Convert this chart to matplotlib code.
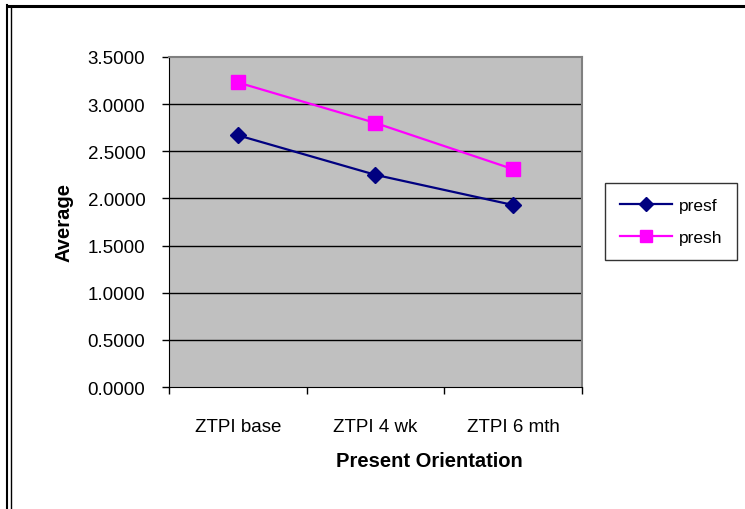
import matplotlib.pyplot as plt
from matplotlib.lines import Line2D

plt.rcParams['font.family'] = ['Liberation Sans', 'DejaVu Sans']

# categories and the two averages
categories = ['ZTPI base', 'ZTPI 4 wk', 'ZTPI 6 mth']
presf = [2.67, 2.25, 1.93]
presh = [3.23, 2.80, 2.31]
y_ticks = [0.0, 0.5, 1.0, 1.5, 2.0, 2.5, 3.0, 3.5]

fig = plt.figure(figsize=(7.45, 5.1), dpi=100)
ax = fig.add_axes([0.2268, 0.2392, 0.5544, 0.6471])
ax.set_facecolor('#C0C0C0')

x = list(range(len(categories)))
ax.plot(x, presf, color='#000080', lw=1.6, marker='D', ms=8, label='presf', zorder=3)
ax.plot(x, presh, color='#FF00FF', lw=1.6, marker='s', ms=10, label='presh', zorder=3)

ax.set_xlim(-0.5, 2.5)
ax.set_ylim(0, 3.5)
ax.set_yticks(y_ticks)
ax.set_yticklabels([f'{v:.4f}' for v in y_ticks])
for v in y_ticks[1:-1]:
    ax.axhline(v, color='black', lw=1, zorder=1)

ax.set_xticks(x)
ax.set_xticklabels(categories)
ax.set_xticks([-0.5, 0.5, 1.5, 2.5], minor=True)
ax.tick_params(axis='x', which='major', length=0, pad=22, labelsize=13.5)
ax.tick_params(axis='x', which='minor', length=5, width=1, direction='out')
ax.tick_params(axis='y', length=5, width=1, pad=12, labelsize=13.5)

ax.spines['left'].set_color('black')
ax.spines['bottom'].set_color('black')
ax.spines['top'].set_color('#808080')
ax.spines['right'].set_color('#808080')
ax.spines['top'].set_linewidth(1.5)
ax.spines['right'].set_linewidth(1.5)

ax.set_xlabel('Present Orientation', fontsize=14.5, fontweight='bold', labelpad=12, x=0.63)
ax.set_ylabel('Average', fontsize=14.5, fontweight='bold', labelpad=10)

leg = fig.legend(loc='upper left', bbox_to_anchor=(605 / 745, 1 - 184 / 510),
                 frameon=True, fancybox=False, edgecolor='black', fontsize=12.5,
                 handlelength=3.0, borderpad=0.85, labelspacing=1.0, handletextpad=0.4,
                 borderaxespad=0, markerscale=0.85)
leg.get_frame().set_linewidth(1)

# outer chart border: thick top line and double line on the left
fig.add_artist(Line2D([8 / 745, 1], [1 - 7 / 510, 1 - 7 / 510], color='black', lw=2.2,
                      transform=fig.transFigure))
fig.add_artist(Line2D([7.5 / 745, 7.5 / 745], [0, 1 - 6 / 510], color='black', lw=1.5,
                      transform=fig.transFigure))
fig.add_artist(Line2D([10.5 / 745, 10.5 / 745], [0, 1 - 8 / 510], color='black', lw=1,
                      transform=fig.transFigure))

fig.savefig('out.png', dpi=100)
